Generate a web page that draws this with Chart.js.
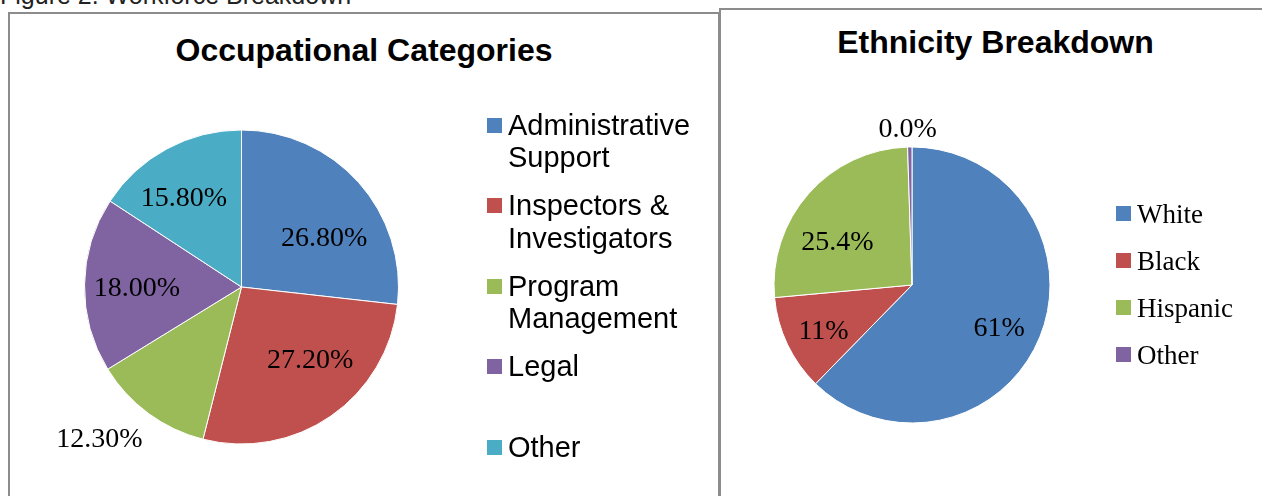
<!DOCTYPE html>
<html>
<head>
<meta charset="utf-8">
<script src="https://cdn.jsdelivr.net/npm/chart.js@4.4.1/dist/chart.umd.min.js"></script>
<style>
    body {
        margin: 0;
        width: 1262px;
        height: 496px;
        overflow: hidden;
        position: relative;
        background: #fff;
        font-family: "Liberation Sans", Arial, sans-serif;
    }
    .caption {
        position: absolute;
        left: 0;
        top: -18px;
        font-size: 25px;
        line-height: 26px;
        color: #222;
        white-space: nowrap;
    }
    .box {
        position: absolute;
        border: 2px solid #8c8c8c;
        box-sizing: border-box;
    }
    #boxLeft { left: 8px; top: 12px; width: 712px; height: 520px; }
    #boxRight { left: 719px; top: 8px; width: 600px; height: 520px; }
    canvas { position: absolute; }
    .title {
        position: absolute;
        font-weight: bold;
        font-size: 32px;
        line-height: 32px;
        text-align: center;
        color: #000;
        white-space: nowrap;
    }
    .legend-item { position: absolute; }
    .legend-item .sw { position: absolute; left: 0; width: 15px; height: 15px; }
    .legend-item .tx { position: absolute; left: 21px; color: #000; }
    #legendLeft .tx { font-size: 29px; line-height: 32.5px; width: 205px; }
    #legendRight .tx { font-family: "Liberation Serif", serif; font-size: 27px; line-height: 30px; white-space: nowrap; }
</style>
</head>
<body>
<div class="caption">Figure 2. Workforce Breakdown</div>
<div class="box" id="boxLeft"></div>
<div class="box" id="boxRight"></div>

<div class="title" style="left:8px; width:712px; top:33.9px;">Occupational Categories</div>
<div class="title" style="left:795.5px; width:400px; top:26px;">Ethnicity Breakdown</div>

<canvas id="graficoOcupacion" width="708" height="482" style="left:10px; top:14px;"></canvas>
<canvas id="graficoEtnia" width="541" height="486" style="left:721px; top:10px;"></canvas>

<div id="legendLeft"></div>
<div id="legendRight"></div>

<script>
const occupationCategories = ["Administrative Support", "Inspectors & Investigators", "Program Management", "Legal", "Other"];
const occupationShares = [26.8, 27.2, 12.3, 18.0, 15.8];

const ethnicityCategories = ["White", "Black", "Hispanic", "Other"];
const ethnicityShares = [61, 11, 25.4, 0.5];
const ethnicityLabels = ["61%", "11%", "25.4%", "0.0%"];

const sliceColors = ["#4F81BD", "#C0504D", "#9BBB59", "#8064A2", "#4BACC6"];

// draws the percentage text on (or next to) each slice
const sliceLabels = {
    id: "sliceLabels",
    afterDatasetsDraw(chart, args, opts) {
        const ctx = chart.ctx;
        const meta = chart.getDatasetMeta(0);
        ctx.save();
        ctx.font = opts.font;
        ctx.fillStyle = "#000";
        ctx.textAlign = "center";
        ctx.textBaseline = "alphabetic";
        meta.data.forEach((arc, i) => {
            const p = arc.getProps(["x", "y", "startAngle", "endAngle", "outerRadius"], true);
            const a = (p.startAngle + p.endAngle) / 2 + opts.shift[i] * Math.PI / 180;
            const r = p.outerRadius * opts.dist[i];
            ctx.fillText(opts.text[i], p.x + Math.cos(a) * r, p.y + Math.sin(a) * r + opts.drop);
        });
        ctx.restore();
    },
};

function buildLegend(chart, id, top, pitch, swTop) {
    const box = document.getElementById(id);
    const colors = chart.data.datasets[0].backgroundColor;
    chart.data.labels.forEach((label, i) => {
        const item = document.createElement("div");
        item.className = "legend-item";
        item.style.top = (top + pitch * i) + "px";
        const sw = document.createElement("div");
        sw.className = "sw";
        sw.style.top = swTop + "px";
        sw.style.background = colors[i];
        const tx = document.createElement("div");
        tx.className = "tx";
        tx.textContent = label;
        item.appendChild(sw);
        item.appendChild(tx);
        box.appendChild(item);
    });
}

const configOcupacion = {
    type: "pie",
    data: {
        labels: occupationCategories,
        datasets: [
            {
                data: occupationShares,
                backgroundColor: sliceColors,
                borderColor: "#ffffff",
                borderWidth: 1,
            },
        ],
    },
    options: {
        responsive: false,
        animation: false,
        layout: {
            padding: { left: 74, top: 115.5, right: 319, bottom: 51.5 },
        },
        plugins: {
            legend: { display: false },
            title: { display: false },
            tooltip: { enabled: false },
            sliceLabels: {
                font: "28px 'Liberation Serif', serif",
                text: occupationShares.map((v) => v.toFixed(2) + "%"),
                dist: [0.615, 0.63, 1.32, 0.666, 0.685],
                shift: [10.6, -9.3, 7, -0.8, -3.9],
                drop: 9.5,
            },
        },
    },
    plugins: [sliceLabels],
};

const configEtnia = {
    type: "pie",
    data: {
        labels: ethnicityCategories,
        datasets: [
            {
                data: ethnicityShares,
                backgroundColor: sliceColors.slice(0, 4),
                borderColor: "#ffffff",
                borderWidth: 1,
            },
        ],
    },
    options: {
        responsive: false,
        animation: false,
        layout: {
            padding: { left: 52.5, top: 136.5, right: 211.5, bottom: 72.5 },
        },
        plugins: {
            legend: { display: false },
            title: { display: false },
            tooltip: { enabled: false },
            sliceLabels: {
                font: "28px 'Liberation Serif', serif",
                text: ethnicityLabels,
                dist: [0.7, 0.716, 0.63, 1.14],
                shift: [3.3, -1.0, -10.4, -0.7],
                drop: 9.5,
            },
        },
    },
    plugins: [sliceLabels],
};

const chartOcupacion = new Chart(document.getElementById("graficoOcupacion"), configOcupacion);
const chartEtnia = new Chart(document.getElementById("graficoEtnia"), configEtnia);

document.getElementById("legendLeft").style.cssText = "position:absolute; left:487px; top:0;";
document.getElementById("legendRight").style.cssText = "position:absolute; left:1116px; top:0;";
buildLegend(chartOcupacion, "legendLeft", 108.7, 80.5, 9.3);
buildLegend(chartEtnia, "legendRight", 199.2, 47, 6.8);
</script>
</body>
</html>
